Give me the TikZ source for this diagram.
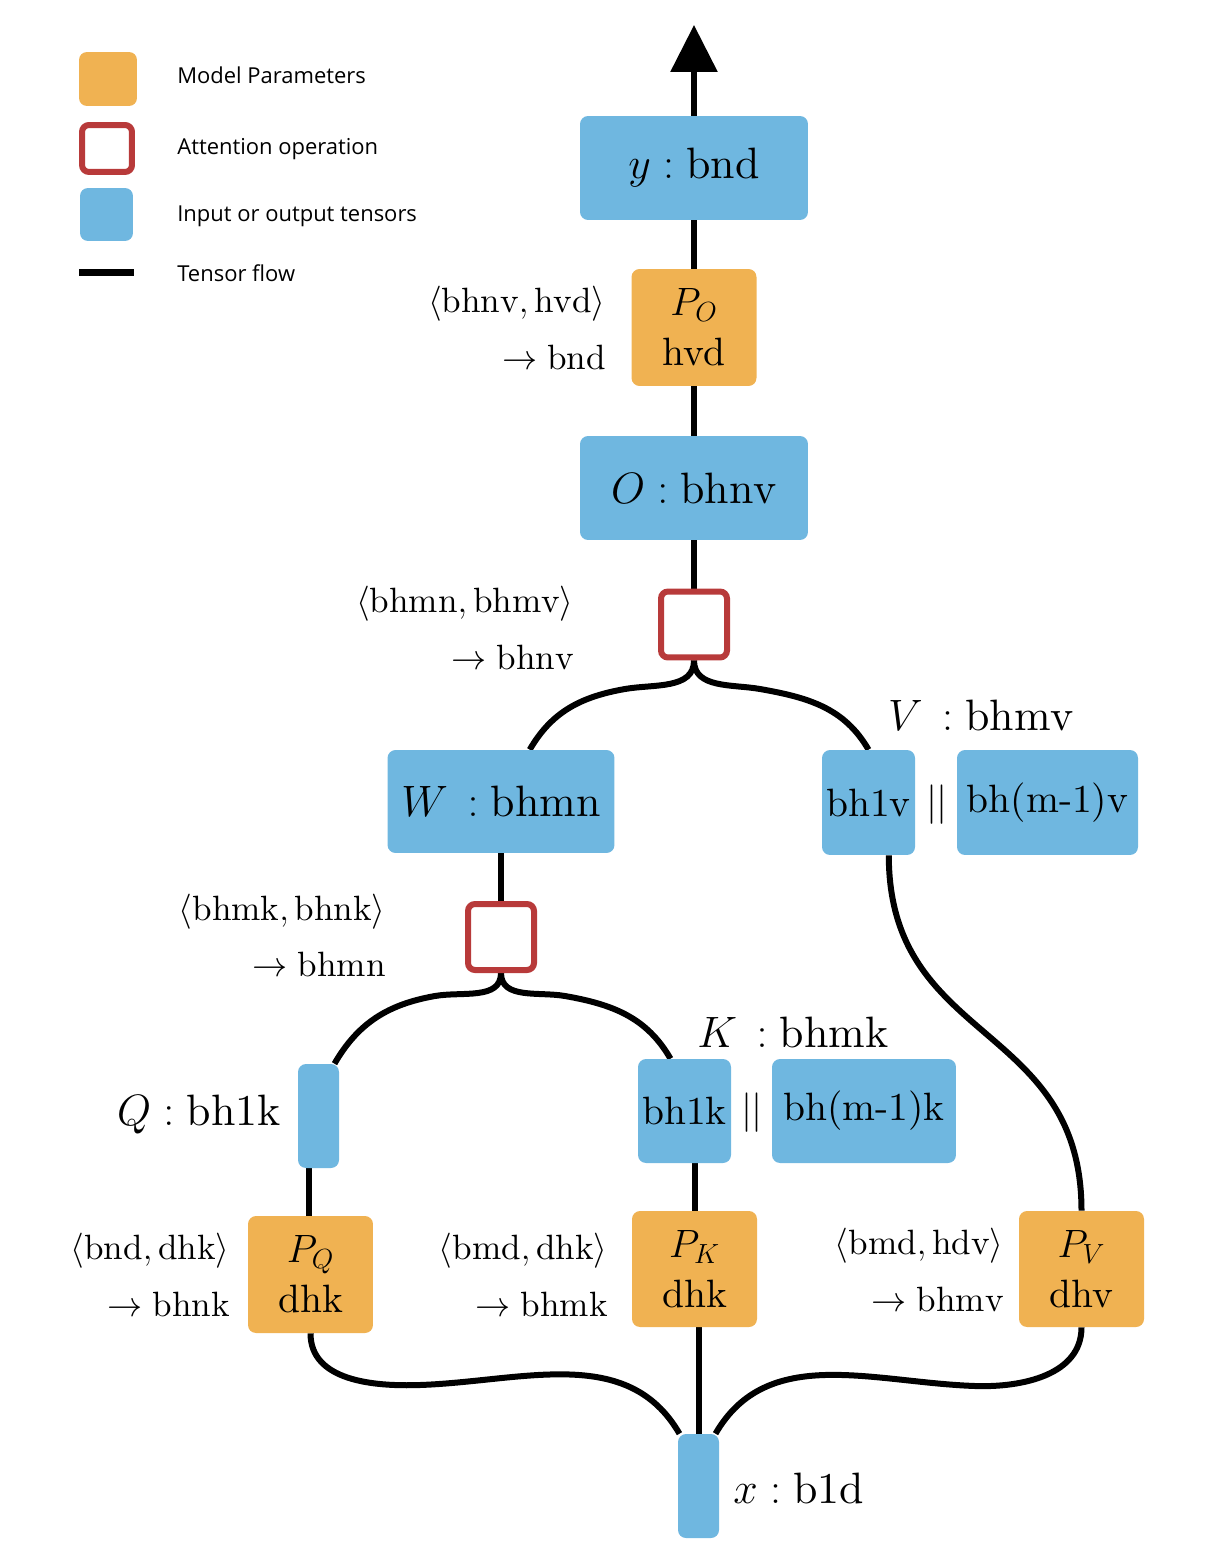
\RequirePackage{fix-cm}
\documentclass[tikz,border=0pt]{standalone}
\usepackage{amsmath}
\usepackage{fontspec}
\setmainfont{lmroman10-regular}[Extension=.otf, ItalicFont=lmroman10-italic, BoldFont=lmroman10-bold]
\setsansfont{Open Sans}
\usetikzlibrary{arrows.meta,backgrounds}

\definecolor{paramorange}{RGB}{240,178,82}
\definecolor{tensorblue}{RGB}{111,183,224}
\definecolor{attnred}{RGB}{184,58,58}

\newcommand{\tensorfont}{\fontsize{25}{30}\selectfont}
\newcommand{\cellfont}{\fontsize{22.5}{28.5}\selectfont}
\newcommand{\einsumfont}{\fontsize{20}{32}\selectfont}
\newcommand{\legendfont}{\sffamily\fontsize{12.5}{15}\selectfont}

\tikzset{
    param/.style={fill=paramorange, rounded corners=0.16cm, inner sep=0pt,
        minimum width=2.5cm, minimum height=2.34cm, align=center, font=\cellfont},
    tensor/.style={fill=tensorblue, rounded corners=0.16cm, inner sep=0pt},
    attn/.style={draw=attnred, fill=white, line width=0.12cm, rounded corners=0.14cm,
        minimum size=1.32cm, inner sep=0pt},
    flow/.style={line width=0.12cm},
    einsum/.style={anchor=east, align=right, inner sep=0pt, font=\einsumfont},
    legendtext/.style={anchor=base west, inner sep=0pt, font=\legendfont},
}

\begin{document}
\begin{tikzpicture}[x=0.02cm, y=0.02cm]
    \useasboundingbox (0,0) rectangle (1219,-1564);

    % legend
    \node[param, minimum width=1.16cm, minimum height=1.08cm] (lgparam) at (108,-79) {};
    \node[attn, minimum width=1.0cm, minimum height=0.94cm] (lgattn) at (107,-148.5) {};
    \node[tensor, minimum width=1.06cm, minimum height=1.06cm] (lgtensor) at (106.5,-214.5) {};
    \coordinate (lgflowL) at (79,-273);
    \coordinate (lgflowR) at (134,-273);
    \draw[flow, line width=0.14cm] (lgflowL) -- (lgflowR);
    \foreach \y/\txt in {84/Model Parameters, 155/Attention operation,
                         222/Input or output tensors, 282/Tensor flow}
        \node[legendtext] (lg\y) at (177,-\y) {\txt};

    % output side
    \coordinate (top) at (694,-25);
    \node[tensor, minimum width=4.56cm, minimum height=2.08cm, font=\tensorfont] (yout) at (694,-168) {$y:\mathrm{bnd}$};
    \node[param] (PO) at (694,-327.5) {$P_O$\\hvd};
    \node[einsum] (eO) at (606,-328) {$\langle\mathrm{bhnv},\mathrm{hvd}\rangle$\\$\rightarrow\mathrm{bnd}$};
    \node[tensor, minimum width=4.56cm, minimum height=2.08cm, font=\tensorfont] (O) at (694,-488) {$O:\mathrm{bhnv}$};
    \node[attn] (att1) at (694,-624.5) {};
    \node[einsum] (eatt1) at (574,-628) {$\langle\mathrm{bhmn},\mathrm{bhmv}\rangle$\\$\rightarrow\mathrm{bhnv}$};

    % W and V
    \node[tensor, minimum width=4.54cm, minimum height=2.06cm, font=\tensorfont] (W) at (501,-801.5) {$W\,:\mathrm{bhmn}$};
    \node[tensor, minimum width=1.86cm, minimum height=2.1cm, font=\cellfont] (bh1v) at (868.5,-802.5) {bh1v};
    \node[font=\cellfont] (barV) at (937,-805) {$||$};
    \node[tensor, minimum width=3.62cm, minimum height=2.1cm, font=\cellfont] (bhmv) at (1047.5,-802.5) {bh(m-1)v};
    \node[font=\tensorfont] (Vlabel) at (981,-715) {$V\,:\mathrm{bhmv}$};

    \node[attn] (att2) at (501,-937) {};
    \node[einsum] (eatt2) at (386,-935.5) {$\langle\mathrm{bhmk},\mathrm{bhnk}\rangle$\\$\rightarrow\mathrm{bhmn}$};

    % Q and K
    \node[tensor, minimum width=0.82cm, minimum height=2.08cm] (Q) at (318.5,-1116) {};
    \node[font=\tensorfont, anchor=east, inner sep=0pt] (Qlabel) at (281,-1115) {$Q:\mathrm{bh1k}$};
    \node[tensor, minimum width=1.86cm, minimum height=2.08cm, font=\cellfont] (bh1k) at (684.5,-1111) {bh1k};
    \node[font=\cellfont] (barK) at (752,-1113) {$||$};
    \node[tensor, minimum width=3.68cm, minimum height=2.08cm, font=\cellfont] (bhmk) at (864,-1111) {bh(m-1)k};
    \node[font=\tensorfont] (Klabel) at (793,-1032) {$K\,:\mathrm{bhmk}$};

    % projections
    \node[param] (PQ) at (310.5,-1274.5) {$P_Q$\\dhk};
    \node[param, minimum height=2.32cm] (PK) at (694.5,-1269) {$P_K$\\dhk};
    \node[param, minimum height=2.32cm] (PV) at (1081.5,-1269) {$P_V$\\dhv};
    \node[einsum] (eQ) at (230,-1275) {$\langle\mathrm{bnd},\mathrm{dhk}\rangle$\\$\rightarrow\mathrm{bhnk}$};
    \node[einsum] (eK) at (608,-1275) {$\langle\mathrm{bmd},\mathrm{dhk}\rangle$\\$\rightarrow\mathrm{bhmk}$};
    \node[einsum] (eV) at (1004,-1270) {$\langle\mathrm{bmd},\mathrm{hdv}\rangle$\\$\rightarrow\mathrm{bhmv}$};

    % input
    \node[tensor, minimum width=0.82cm, minimum height=2.08cm] (xin) at (698.5,-1486) {};
    \node[font=\tensorfont, anchor=west, inner sep=0pt] (xlabel) at (733,-1488) {$x:\mathrm{b1d}$};

    \begin{scope}[on background layer]
        \draw[flow, -{Triangle[width=0.92cm,length=0.94cm]}] (yout.north) -- (top);
        \draw[flow] (yout.south) -- (PO.north);
        \draw[flow] (PO.south) -- (O.north);
        \draw[flow] (O.south) -- (att1.north);
        \draw[flow] (att1.south) to[out=-90,in=10] (625,-689) to[out=190,in=60] (W.61);
        \draw[flow] (att1.south) to[out=-90,in=170] (760,-689) to[out=-10,in=120] (bh1v.north);
        \draw[flow] (W.south) -- (att2.north);
        \draw[flow] (att2.south) to[out=-90,in=10] (435,-996) to[out=190,in=60] (Q.73);
        \draw[flow] (att2.south) to[out=-90,in=170] (565,-996) to[out=-10,in=120] (bh1k.105);
        \draw[flow] (bh1v.-69) to[out=-90,in=90,looseness=1.2] (PV.north);
        \draw[flow] (Q.-100) -- (Q.-100 |- PQ.north);
        \draw[flow] (PK.north) -- (PK.north |- bh1k.south);
        \draw[flow] (PQ.south) to[out=-90,in=182] (420,-1385) to[out=2,in=120] (xin.110);
        \draw[flow] (xin.north |- PK.south) -- (xin.north);
        \draw[flow] (PV.south) to[out=-90,in=-2] (975,-1386) to[out=178,in=60] (xin.72);
    \end{scope}
\end{tikzpicture}
\end{document}
